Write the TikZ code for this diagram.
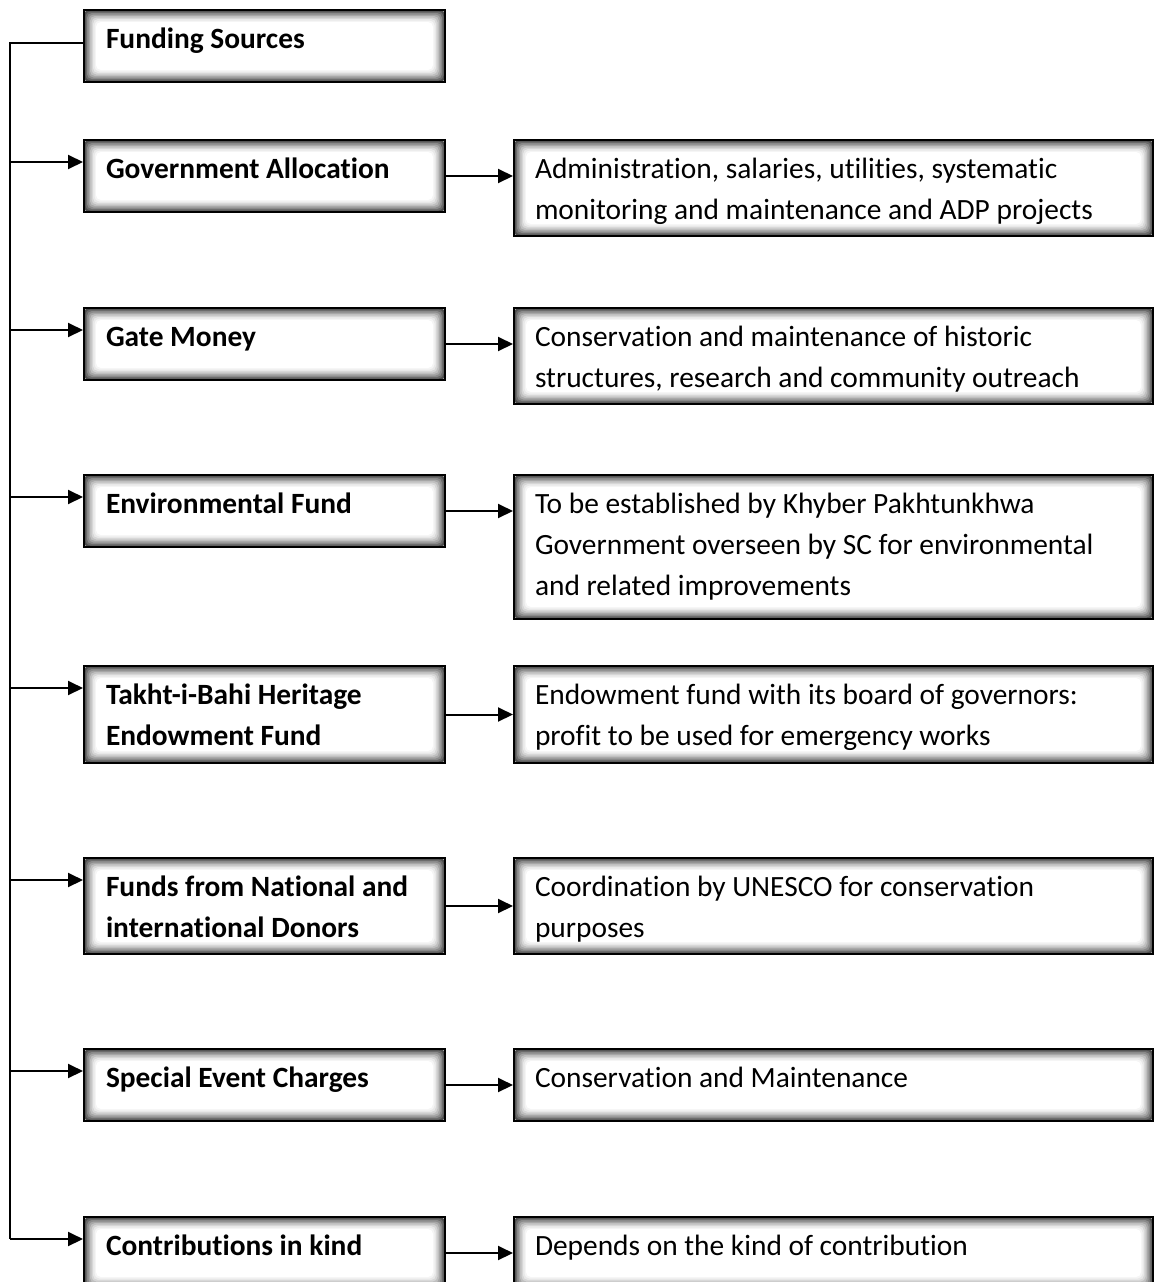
\documentclass[tikz,border=0pt]{standalone}
\usepackage{fontspec}
\setmainfont[Ligatures=NoCommon]{Carlito}
\usetikzlibrary{arrows.meta,calc}

% text block inside a box: #1 height, #2 width, #3 text
\newcommand{\boxtxt}[3]{\parbox[t][#1][t]{#2}{\raggedright\fontsize{29.4}{41}\selectfont\rule{0pt}{38pt}#3}}

\tikzset{
  shbox/.style={draw=black, line width=2pt, fill=white, inner sep=0pt, anchor=north west,
    path picture={
      \foreach \d/\c in {0/70,1.5/58,3/46,4.5/35,6/25,7.5/16,9/9,10.5/4,12/0}{
        \fill[black!\c, rounded corners=5pt]
          ([shift={(\d pt,-\d pt)}]path picture bounding box.north west) rectangle
          ([shift={(-\d pt,\d pt)}]path picture bounding box.south east);
      }
    }},
  lbox/.style={shbox, minimum width=361pt, minimum height=#1},
  rbox/.style={shbox, minimum width=639pt, minimum height=#1},
  wire/.style={line width=2pt},
  conn/.style={line width=2pt, -{Triangle[length=15pt,width=14pt]}},
}

\begin{document}
\begin{tikzpicture}[x=1pt,y=-1pt]
\useasboundingbox (0,0) rectangle (1154,1282);

% funding sources (left column)
\node[lbox=72pt] (fs) at (83,9)    {\boxtxt{72pt}{317pt}{\bfseries Funding Sources}};
\node[lbox=72pt] (ga) at (83,139)  {\boxtxt{72pt}{317pt}{\bfseries Government Allocation}};
\node[lbox=72pt] (gm) at (83,307)  {\boxtxt{72pt}{317pt}{\bfseries Gate Money}};
\node[lbox=72pt] (ef) at (83,474)  {\boxtxt{72pt}{317pt}{\bfseries Environmental Fund}};
\node[lbox=97pt] (tb) at (83,665)  {\boxtxt{97pt}{317pt}{\bfseries Takht-i-Bahi Heritage\\Endowment Fund}};
\node[lbox=96pt] (nd) at (83,857)  {\boxtxt{96pt}{317pt}{\bfseries Funds from National and\\international Donors}};
\node[lbox=72pt] (se) at (83,1048) {\boxtxt{72pt}{317pt}{\bfseries Special Event Charges}};
\node[lbox=72pt] (ck) at (83,1216) {\boxtxt{72pt}{317pt}{\bfseries Contributions in kind}};

% uses (right column)
\node[rbox=96pt]  (ga-u) at (513,139)  {\boxtxt{96pt}{597pt}{Administration, salaries, utilities, systematic\\monitoring and maintenance and ADP projects}};
\node[rbox=96pt]  (gm-u) at (513,307)  {\boxtxt{96pt}{597pt}{Conservation and maintenance of historic\\structures, research and community outreach}};
\node[rbox=144pt] (ef-u) at (513,474)  {\boxtxt{144pt}{597pt}{To be established by Khyber Pakhtunkhwa\\Government overseen by SC for environmental\\and related improvements}};
\node[rbox=97pt]  (tb-u) at (513,665)  {\boxtxt{97pt}{597pt}{Endowment fund with its board of governors:\\profit to be used for emergency works}};
\node[rbox=96pt]  (nd-u) at (513,857)  {\boxtxt{96pt}{597pt}{Coordination by UNESCO for conservation\\purposes}};
\node[rbox=72pt]  (se-u) at (513,1048) {\boxtxt{72pt}{597pt}{Conservation and Maintenance}};
\node[rbox=72pt]  (ck-u) at (513,1216) {\boxtxt{72pt}{597pt}{Depends on the kind of contribution}};

% entry points on the left side of each box
\coordinate (spine) at (10,0);
\coordinate (fs-out) at ([yshift=-34pt]fs.north west);
\foreach \b in {ga,gm,ef,tb,nd,se,ck}{
  \coordinate (\b-in) at ([yshift=-23pt]\b.north west);
}

% vertical spine from the heading box
\draw[wire] (fs-out) -| (spine |- ck-in);

% spine to source boxes
\foreach \b in {ga,gm,ef,tb,nd,se,ck}{
  \draw[conn] (spine |- \b-in) -- (\b-in);
}

% source boxes to their uses
\foreach \b in {ga,gm,ef,tb,nd,se,ck}{
  \draw[conn] (\b.east) -- (\b.east -| \b-u.west);
}
\end{tikzpicture}
\end{document}
